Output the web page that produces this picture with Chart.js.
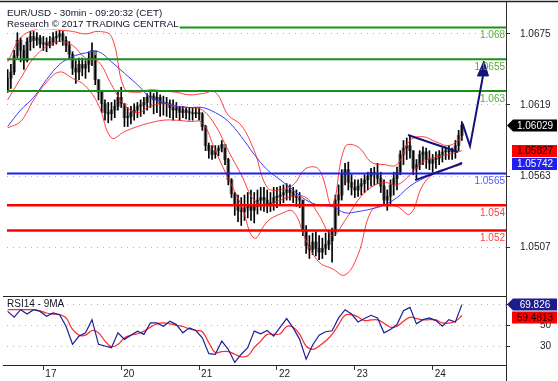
<!DOCTYPE html>
<html>
<head>
<meta charset="utf-8">
<title>EUR/USD 30min</title>
<script src="https://cdn.jsdelivr.net/npm/chart.js@4/dist/chart.umd.min.js"></script>
<style>
  html, body { margin: 0; padding: 0; background: #ffffff; }
  #wrap { position: relative; width: 558px; height: 381px; overflow: hidden; background: #fff; }
  #priceCanvas { position: absolute; left: 0; top: 0; width: 558px; height: 296px; }
  #rsiCanvas { position: absolute; left: 0; top: 290px; width: 558px; height: 91px; }
</style>
</head>
<body>
<div id="wrap">
  <canvas id="priceCanvas" width="558" height="296"></canvas>
  <canvas id="rsiCanvas" width="558" height="91"></canvas>
</div>
<script>
// ================= DATA =================
const titleLines = ['EUR/USD - 30min - 09:20:32 (CET)', 'Research \u00A9 2017 TRADING CENTRAL'];
const rsiTitle = 'RSI14 - 9MA';

// time axis: hours counted from the start of the 17th (weekend removed)
const dayStarts = [0, 24, 48, 72, 96, 120];
const dayLabels = ['17', '20', '21', '22', '23', '24'];
const priceTicks = [1.0675, 1.0619, 1.0563, 1.0507];
const rsiTicks = [70, 50, 30];

// hourly bars, first bar at hour -11
const firstBarHour = -11;
const opens = [
  1.0631,1.0640,1.0645,1.0658,1.0670,1.0662,1.0654,1.0669,1.0673,1.0670,
  1.0672,1.0667,1.0668,1.0666,1.0669,1.0672,1.0673,1.0675,1.0670,1.0666,
  1.0659,1.0648,1.0645,1.0651,1.0648,1.0651,1.0656,1.0662,1.0639,1.0629,
  1.0620,1.0613,1.0612,1.0615,1.0618,1.0625,1.0620,1.0609,1.0610,1.0613,
  1.0615,1.0618,1.0619,1.0621,1.0625,1.0626,1.0623,1.0625,1.0620,1.0621,
  1.0620,1.0617,1.0615,1.0617,1.0613,1.0615,1.0613,1.0613,1.0612,1.0613,
  1.0612,1.0602,1.0587,1.0583,1.0580,1.0583,1.0585,1.0588,1.0576,1.0560,
  1.0549,1.0540,1.0536,1.0535,1.0538,1.0540,1.0536,1.0539,1.0544,1.0546,
  1.0544,1.0541,1.0542,1.0546,1.0547,1.0548,1.0550,1.0552,1.0550,1.0547,
  1.0546,1.0544,1.0520,1.0508,1.0505,1.0511,1.0506,1.0503,1.0506,1.0509,
  1.0512,1.0519,1.0544,1.0548,1.0564,1.0568,1.0558,1.0554,1.0552,1.0555,
  1.0557,1.0560,1.0563,1.0566,1.0565,1.0561,1.0555,1.0544,1.0547,1.0556,
  1.0561,1.0566,1.0580,1.0585,1.0587,1.0583,1.0569,1.0572,1.0580,1.0582,
  1.0576,1.0573,1.0576,1.0577,1.0580,1.0582,1.0583,1.0582,1.0583,1.0587,
  1.0595
];
const highs = [
  1.0647,1.0651,1.0662,1.0676,1.0672,1.0666,1.0672,1.0677,1.0677,1.0676,
  1.0674,1.0673,1.0672,1.0673,1.0676,1.0677,1.0678,1.0677,1.0673,1.0669,
  1.0661,1.0654,1.0656,1.0656,1.0654,1.0661,1.0668,1.0658,1.0639,1.0629,
  1.0623,1.0621,1.0621,1.0623,1.0629,1.0633,1.0620,1.0617,1.0618,1.0620,
  1.0621,1.0623,1.0625,1.0628,1.0629,1.0628,1.0629,1.0627,1.0626,1.0625,
  1.0623,1.0623,1.0621,1.0618,1.0618,1.0617,1.0617,1.0617,1.0617,1.0617,
  1.0613,1.0603,1.0589,1.0587,1.0587,1.0587,1.0591,1.0585,1.0577,1.0561,
  1.0550,1.0548,1.0546,1.0548,1.0550,1.0552,1.0550,1.0552,1.0554,1.0554,
  1.0552,1.0550,1.0554,1.0554,1.0555,1.0556,1.0557,1.0556,1.0554,1.0552,
  1.0550,1.0544,1.0524,1.0516,1.0518,1.0519,1.0516,1.0514,1.0518,1.0520,
  1.0522,1.0548,1.0556,1.0568,1.0573,1.0574,1.0564,1.0560,1.0560,1.0561,
  1.0564,1.0566,1.0569,1.0570,1.0573,1.0566,1.0560,1.0552,1.0560,1.0566,
  1.0570,1.0583,1.0591,1.0593,1.0595,1.0583,1.0576,1.0583,1.0586,1.0585,
  1.0583,1.0580,1.0582,1.0583,1.0585,1.0586,1.0587,1.0585,1.0591,1.0599,
  1.0606
];
const lows = [
  1.0629,1.0632,1.0643,1.0656,1.0653,1.0647,1.0653,1.0662,1.0664,1.0666,
  1.0664,1.0662,1.0661,1.0664,1.0666,1.0667,1.0669,1.0666,1.0661,1.0656,
  1.0643,1.0636,1.0639,1.0642,1.0640,1.0645,1.0650,1.0635,1.0623,1.0613,
  1.0607,1.0605,1.0607,1.0609,1.0615,1.0617,1.0602,1.0602,1.0604,1.0607,
  1.0609,1.0610,1.0612,1.0615,1.0617,1.0612,1.0613,1.0610,1.0611,1.0610,
  1.0609,1.0607,1.0609,1.0607,1.0609,1.0608,1.0607,1.0607,1.0609,1.0607,
  1.0599,1.0583,1.0577,1.0576,1.0577,1.0579,1.0582,1.0572,1.0556,1.0546,
  1.0532,1.0527,1.0524,1.0528,1.0530,1.0528,1.0526,1.0533,1.0536,1.0535,
  1.0534,1.0535,1.0536,1.0538,1.0540,1.0542,1.0544,1.0544,1.0542,1.0539,
  1.0538,1.0516,1.0502,1.0498,1.0501,1.0500,1.0497,1.0498,1.0501,1.0505,
  1.0495,1.0516,1.0532,1.0544,1.0556,1.0552,1.0548,1.0546,1.0547,1.0548,
  1.0550,1.0552,1.0555,1.0556,1.0557,1.0550,1.0540,1.0536,1.0540,1.0548,
  1.0552,1.0564,1.0572,1.0576,1.0577,1.0564,1.0560,1.0568,1.0572,1.0569,
  1.0568,1.0566,1.0569,1.0572,1.0574,1.0576,1.0576,1.0576,1.0577,1.0583,
  1.0591
];
const closes = [
  1.0640,1.0645,1.0658,1.0670,1.0662,1.0654,1.0669,1.0673,1.0670,1.0672,
  1.0667,1.0668,1.0666,1.0669,1.0672,1.0673,1.0675,1.0670,1.0666,1.0659,
  1.0648,1.0645,1.0651,1.0648,1.0651,1.0656,1.0662,1.0639,1.0629,1.0620,
  1.0613,1.0612,1.0615,1.0618,1.0625,1.0620,1.0609,1.0610,1.0613,1.0615,
  1.0618,1.0619,1.0621,1.0625,1.0626,1.0623,1.0625,1.0620,1.0621,1.0620,
  1.0617,1.0615,1.0617,1.0613,1.0615,1.0613,1.0613,1.0612,1.0613,1.0612,
  1.0602,1.0587,1.0583,1.0580,1.0583,1.0585,1.0588,1.0576,1.0560,1.0549,
  1.0540,1.0536,1.0535,1.0538,1.0540,1.0536,1.0539,1.0544,1.0546,1.0544,
  1.0541,1.0542,1.0546,1.0547,1.0548,1.0550,1.0552,1.0550,1.0547,1.0546,
  1.0544,1.0520,1.0508,1.0505,1.0511,1.0506,1.0503,1.0506,1.0509,1.0512,
  1.0519,1.0544,1.0548,1.0564,1.0568,1.0558,1.0554,1.0552,1.0555,1.0557,
  1.0560,1.0563,1.0566,1.0565,1.0561,1.0555,1.0544,1.0547,1.0556,1.0561,
  1.0566,1.0580,1.0585,1.0587,1.0583,1.0569,1.0572,1.0580,1.0582,1.0576,
  1.0573,1.0576,1.0577,1.0580,1.0582,1.0583,1.0582,1.0583,1.0587,1.0595,
  1.0603
];

// indicator lines, one reading every 4 hours from hour -11
const lineFirstHour = -11, lineStep = 4;
const movingAvg = [
  1.0602,1.0615,1.0625,1.0639,1.0651,1.0657,1.0660,1.0661,1.0653,1.0644,
  1.0635,1.0625,1.0621,1.0618,1.0617,1.0617,1.0613,1.0606,1.0594,1.0580,
  1.0568,1.0560,1.0552,1.0544,1.0540,1.0539,1.0534,1.0535,1.0537,1.0540,
  1.0546,1.0555,1.0561,1.0565,1.0569,1.0574
];
const bandUpper = [
  1.0653,1.0672,1.0678,1.0679,1.0678,1.0677,1.0675,1.0677,1.0673,1.0632,
  1.0629,1.0631,1.0630,1.0629,1.0627,1.0628,1.0629,1.0611,1.0603,1.0583,
  1.0554,1.0552,1.0556,1.0569,1.0568,1.0540,1.0586,1.0586,1.0574,1.0572,
  1.0572,1.0591,1.0594,1.0590,1.0587,1.0593
];
const bandMiddle = [
  1.0623,1.0640,1.0656,1.0665,1.0669,1.0666,1.0656,1.0653,1.0635,1.0619,
  1.0613,1.0618,1.0620,1.0618,1.0617,1.0615,1.0603,1.0583,1.0564,1.0544,
  1.0540,1.0544,1.0547,1.0546,1.0532,1.0516,1.0528,1.0544,1.0554,1.0558,
  1.0556,1.0564,1.0574,1.0578,1.0580,1.0583
];
const bandLower = [
  1.0601,1.0606,1.0623,1.0637,1.0645,1.0640,1.0634,1.0619,1.0593,1.0598,
  1.0602,1.0605,1.0607,1.0607,1.0606,1.0605,1.0583,1.0561,1.0540,1.0514,
  1.0527,1.0533,1.0535,1.0512,1.0495,1.0490,1.0485,1.0501,1.0535,1.0540,
  1.0539,1.0533,1.0556,1.0566,1.0569,1.0572
];

// RSI, one reading every 2 hours from hour -11
const rsiFirstHour = -11, rsiStep = 2;
const rsiValues = [
  63.4,58,65,61,65,63.4,58.8,61.9,60.3,49.4,
  32.2,40,43.1,55.6,32.2,30.6,29,43.1,36.9,40.9,
  44.7,41.6,52.5,52.5,49.4,54,50.9,43.1,47.8,45.3,
  38.4,23.4,22.8,35.3,27.5,15,22.8,29,44.7,42.2,
  45.3,40,48.4,56.6,47.8,36.9,18.1,31.6,40.9,44.1,
  45,57.2,65,60.9,53.4,56.6,59.7,57.2,43.1,46.3,
  50.9,64.1,67.2,51.6,55.6,57.2,54.7,49.4,55.6,53.4,
  69.8
];
const rsiMaValues = [
  65,65,65,65,65,64,61.9,60.9,60.3,57.2,
  46.3,40.9,40.9,45.3,43.1,35.3,30,32.2,38.4,40.9,
  42.2,44.7,48.4,51.6,52.5,51.6,50.3,49.1,46.9,45.3,
  44.1,33.8,24.4,25.3,25.3,22.8,20.3,21.3,29,35.3,
  41.6,41.6,42.2,49.1,48.4,41.6,30.6,27.5,30.6,35.3,
  41.6,50.9,59.7,60.3,58.1,54.7,55.3,55.3,52.2,48.4,
  49.4,54,57.8,56.6,55.3,55.6,55.3,52.5,52.2,54,
  59.5
];

// horizontal levels
const greenLevels = [1.068, 1.0655, 1.063];
const blueLevels = [1.0565];
const redLevels = [1.054, 1.052];

// drawn pattern (hour, price)
const triangleTopHours = [112.4, 127.8];
const triangleTopPrices = [1.05953, 1.05819];
const triangleBottomHours = [114.6, 129.1];
const triangleBottomPrices = [1.05598, 1.05732];
const arrowHours = [129.2, 131.5, 135.5];
const arrowPrices = [1.06045, 1.05866, 1.06419];
const arrowHeadHours = [135.8, 133.8, 137.2, 135.8];
const arrowHeadPrices = [1.06537, 1.06419, 1.06419, 1.06537];

// last-value tags
const priceTagValues = [1.06029, 1.05827, 1.05742];
const rsiTagValues = [69.826, 59.4813];

// ================= CHARTS =================
const FONT = '"Liberation Sans", Arial, sans-serif';
Chart.defaults.font.family = FONT;
Chart.defaults.font.size = 10;
Chart.defaults.color = '#222';

const X_MIN = -11.2, X_MAX = 142.6;

const xy = (hours, vals) => vals.map((v, i) => ({ x: hours[i], y: v }));
const series = (first, step, vals) => vals.map((v, i) => ({ x: first + i * step, y: v }));
const levelData = v => [{ x: X_MIN, y: v }, { x: X_MAX, y: v }];

const bodies = opens.map((o, i) => ({ x: firstBarHour + i, y: [o, closes[i]] }));
const wicks = lows.map((l, i) => ({ x: firstBarHour + i, y: [l, highs[i]] }));

const lineDs = (data, color, width, order, tension) => ({
  type: 'line', data, borderColor: color, borderWidth: width, pointRadius: 0,
  tension: tension || 0, order, fill: false
});

const levelGroups = [
  { values: greenLevels, line: '#1a8f1a', label: '#5aa83a', width: 2 },
  { values: blueLevels, line: '#1f1ff2', label: '#5a5aff', width: 2 },
  { values: redLevels, line: '#ff0000', label: '#ff4040', width: 2.6 }
];

const priceDatasets = [];
priceDatasets.push(lineDs(xy(triangleTopHours, triangleTopPrices), '#12127a', 2, 0));
priceDatasets.push(lineDs(xy(triangleBottomHours, triangleBottomPrices), '#12127a', 2, 0));
priceDatasets.push(lineDs(xy(arrowHours, arrowPrices), '#12127a', 2, 0));
priceDatasets.push(Object.assign(lineDs(xy(arrowHeadHours, arrowHeadPrices), '#12127a', 1, 0),
  { fill: 'shape', backgroundColor: '#12127a' }));
levelGroups.forEach(g => g.values.forEach(v => priceDatasets.push(lineDs(levelData(v), g.line, g.width, 1))));
priceDatasets.push(lineDs(series(lineFirstHour, lineStep, movingAvg), '#3a3aff', 1, 2, 0.4));
priceDatasets.push(lineDs(series(lineFirstHour, lineStep, bandUpper), 'rgba(255,30,30,0.85)', 1, 2, 0.4));
priceDatasets.push(lineDs(series(lineFirstHour, lineStep, bandMiddle), 'rgba(255,30,30,0.85)', 1, 2, 0.4));
priceDatasets.push(lineDs(series(lineFirstHour, lineStep, bandLower), 'rgba(255,30,30,0.85)', 1, 2, 0.4));
priceDatasets.push({ type: 'bar', data: wicks, backgroundColor: '#000', borderWidth: 0,
  barThickness: 1, grouped: false, order: 3 });
priceDatasets.push({ type: 'bar', data: bodies, backgroundColor: '#7e7e7e', borderWidth: 0,
  barThickness: 3, minBarLength: 1, grouped: false, order: 4 });

function drawTags(chart, scale, values, styles) {
  const ctx = chart.ctx;
  const h = 12;
  let prevBottom = -Infinity;
  ctx.save();
  ctx.font = '10px ' + FONT;
  ctx.textAlign = 'center';
  ctx.textBaseline = 'middle';
  values.forEach((v, i) => {
    const st = styles[i];
    let top = scale.getPixelForValue(v) - h / 2;
    if (top < prevBottom + 1) top = prevBottom + 1;
    prevBottom = top + h;
    const L = scale.left;
    ctx.fillStyle = st.bg;
    ctx.beginPath();
    if (st.arrow) {
      ctx.moveTo(L + 1, top + h / 2);
      ctx.lineTo(L + 7, top);
      ctx.lineTo(L + 51, top);
      ctx.lineTo(L + 51, top + h);
      ctx.lineTo(L + 7, top + h);
      ctx.closePath();
    } else {
      ctx.rect(L + 6, top, 45, h);
    }
    ctx.fill();
    ctx.fillStyle = st.fg;
    ctx.fillText(String(v), L + 29, top + h / 2 + 0.5);
  });
  ctx.restore();
}

const priceDecor = {
  id: 'priceDecor',
  afterDatasetsDraw(chart) {
    const { ctx, chartArea: a, scales: { y } } = chart;
    ctx.save();
    ctx.font = '10px ' + FONT;
    ctx.textAlign = 'right';
    ctx.textBaseline = 'alphabetic';
    levelGroups.forEach(g => g.values.forEach(v => {
      ctx.fillStyle = g.label;
      ctx.fillText(String(v), a.right - 1, y.getPixelForValue(v) + 10.5);
    }));
    ctx.font = '9.8px ' + FONT;
    ctx.textAlign = 'left';
    const w = ctx.measureText(titleLines[1]).width;
    ctx.fillStyle = '#fff';
    ctx.fillRect(a.left - 1, 17, w + 2, 12.5);
    ctx.fillStyle = '#141428';
    ctx.fillText(titleLines[0], a.left, 15.5);
    ctx.fillText(titleLines[1], a.left, 26.5);
    ctx.restore();
  },
  afterDraw(chart) {
    const ctx = chart.ctx;
    ctx.save();
    ctx.strokeStyle = '#222';
    ctx.lineWidth = 1.5;
    ctx.beginPath();
    ctx.moveTo(0, 1.5);
    ctx.lineTo(chart.width, 1.5);
    ctx.stroke();
    ctx.restore();
    drawTags(chart, chart.scales.y, priceTagValues, [
      { bg: '#000', fg: '#fff', arrow: true },
      { bg: '#ff0000', fg: '#1a0000', arrow: false },
      { bg: '#1f1ff2', fg: '#fff', arrow: false }
    ]);
  }
};

const gridStyle = {
  color: '#b4b4b4', lineWidth: 1, drawTicks: true, tickLength: 4,
  tickColor: '#333', tickWidth: 1, tickBorderDash: []
};
const borderStyle = { display: true, color: '#333', width: 1, dash: [1, 5] };
const fitVertical = s => { s.width = 52; s.paddingTop = 0; s.paddingBottom = 0; };

new Chart(document.getElementById('priceCanvas'), {
  type: 'bar',
  data: { datasets: priceDatasets },
  options: {
    responsive: false, animation: false, devicePixelRatio: 1, events: [],
    layout: { padding: { left: 7, top: 2, right: 0, bottom: 0 } },
    plugins: { legend: { display: false }, tooltip: { enabled: false } },
    scales: {
      x: { type: 'linear', min: X_MIN, max: X_MAX, display: false, offset: false },
      y: {
        type: 'linear', position: 'right', min: 1.04684, max: 1.07002,
        afterBuildTicks: s => { s.ticks = priceTicks.map(v => ({ value: v })); },
        afterFit: fitVertical,
        ticks: { callback: v => Number(v).toFixed(4), padding: 10, color: '#222', font: { size: 10 } },
        grid: gridStyle,
        border: borderStyle
      }
    }
  },
  plugins: [priceDecor]
});

const rsiDecor = {
  id: 'rsiDecor',
  afterDraw(chart) {
    const { ctx, chartArea: a } = chart;
    ctx.save();
    ctx.strokeStyle = '#222';
    ctx.lineWidth = 1;
    ctx.beginPath();
    ctx.moveTo(3, a.top + 0.5); ctx.lineTo(a.right, a.top + 0.5);
    ctx.moveTo(3, a.bottom + 0.5); ctx.lineTo(a.right, a.bottom + 0.5);
    ctx.moveTo(a.right + 0.5, a.bottom); ctx.lineTo(a.right + 0.5, chart.height);
    ctx.stroke();
    ctx.font = '10px ' + FONT;
    const w = ctx.measureText(rsiTitle).width;
    ctx.fillStyle = '#fff';
    ctx.fillRect(a.left - 1, a.top + 2, w + 3, 11);
    ctx.fillStyle = '#141428';
    ctx.textAlign = 'left';
    ctx.textBaseline = 'alphabetic';
    ctx.fillText(rsiTitle, a.left, a.top + 11);
    ctx.restore();
    drawTags(chart, chart.scales.y, rsiTagValues, [
      { bg: '#1c1c8c', fg: '#fff', arrow: true },
      { bg: '#ff0000', fg: '#1a0000', arrow: false }
    ]);
  }
};

new Chart(document.getElementById('rsiCanvas'), {
  type: 'line',
  data: {
    datasets: [
      lineDs(series(rsiFirstHour, rsiStep, rsiValues), '#1e1e96', 1.2, 0, 0),
      lineDs(series(rsiFirstHour, rsiStep, rsiMaValues), '#ff2a2a', 1.2, 1, 0.4)
    ]
  },
  options: {
    responsive: false, animation: false, devicePixelRatio: 1, events: [],
    layout: { padding: { left: 7, top: 6, right: 0, bottom: 0 } },
    plugins: { legend: { display: false }, tooltip: { enabled: false } },
    scales: {
      x: {
        type: 'linear', min: X_MIN, max: X_MAX, position: 'bottom', offset: false,
        afterBuildTicks: s => { s.ticks = dayStarts.map(v => ({ value: v })); },
        afterFit: s => { s.height = 16; s.paddingLeft = 0; s.paddingRight = 0; },
        ticks: {
          callback: v => dayLabels[dayStarts.indexOf(v)],
          autoSkip: false, maxRotation: 0, align: 'start', labelOffset: 2, padding: -2,
          color: '#222', font: { size: 10 }
        },
        grid: { display: true, drawOnChartArea: false, drawTicks: true, tickLength: 5, tickColor: '#333' },
        border: { display: false }
      },
      y: {
        type: 'linear', position: 'right', min: 12.6, max: 78,
        afterBuildTicks: s => { s.ticks = rsiTicks.map(v => ({ value: v })); },
        afterFit: fitVertical,
        ticks: { callback: v => String(v), padding: 30, crossAlign: 'near', color: '#222', font: { size: 10 } },
        grid: gridStyle,
        border: borderStyle
      }
    }
  },
  plugins: [rsiDecor]
});
</script>
</body>
</html>
